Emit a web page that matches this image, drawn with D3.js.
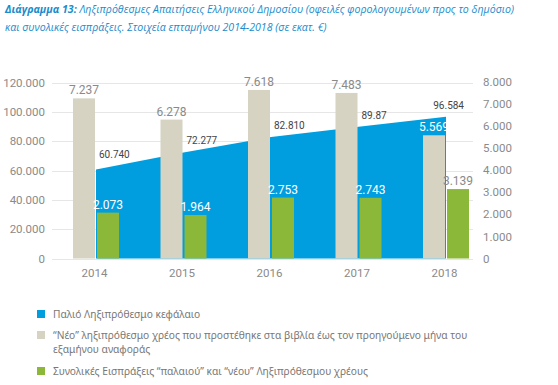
<!DOCTYPE html>
<html>
<head>
<meta charset="utf-8">
<script src="https://cdn.jsdelivr.net/npm/d3@7"></script>
<style>
  body { margin: 0; background: #fff; }
  svg text { font-family: Roboto, "Noto Sans", sans-serif; }
  .title { font-family: "Open Sans", "Noto Sans", sans-serif; font-style: italic; fill: #1a8ccc; font-size: 10.6px; }
  .tick text { fill: #8a8a8a; font-size: 11.5px; }
  .legend text { fill: #777; font-size: 10.2px; font-family: "Noto Sans", sans-serif; }
</style>
</head>
<body>
<div id="chart"></div>
<script>
var years = ["2014", "2015", "2016", "2017", "2018"];
var oldCapital = [60740, 72277, 82810, 89870, 96584];
var oldLabels = ["60.740", "72.277", "82.810", "89.87", "96.584"];
var newDebt = [7237, 6278, 7618, 7483, 5569];
var collections = [2073, 1964, 2753, 2743, 3139];
var leftTicks = [0, 20000, 40000, 60000, 80000, 100000, 120000];
var rightTicks = [0, 1000, 2000, 3000, 4000, 5000, 6000, 7000, 8000];
var legendItems = [
    { color: "#009edf", lines: ["Παλιό Ληξιπρόθεσμο κεφάλαιο"] },
    { color: "#d6d3c3", lines: ["\u201cΝέο\u201d ληξιπρόθεσμο χρέος που προστέθηκε στα βιβλία έως τον προηγούμενο μήνα του", "εξαμήνου αναφοράς"] },
    { color: "#8cb83a", lines: ["Συνολικές Εισπράξεις \u201cπαλαιού\u201d και \u201cνέου\u201d Ληξιπρόθεσμου χρέους"] }
];

var width = 558, height = 385;
var blue = "#009edf", beige = "#d6d3c3", green = "#8cb83a";

var svg = d3.select("#chart").append("svg")
    .attr("width", width)
    .attr("height", height);

// title
var title = svg.append("text").attr("class", "title").attr("x", 5).attr("y", 13);
title.append("tspan").attr("font-weight", "bold").text("Διάγραμμα 13:");
title.append("tspan").text(" Ληξιπρόθεσμες Απαιτήσεις Ελληνικού Δημοσίου (οφειλές φορολογουμένων προς το δημόσιο)");
svg.append("text").attr("class", "title").attr("x", 5).attr("y", 31)
    .text("και συνολικές εισπράξεις. Στοιχεία επταμήνου 2014-2018 (σε εκατ. €)");

var gridLeft = 52, gridRight = 473;

var x = d3.scalePoint().domain(years).range([96, 446]);
var yL = d3.scaleLinear().domain([0, 120000]).range([258.5, 82.5]);
var yR = d3.scaleLinear().domain([0, 8000]).range([258.5, 81.5]);
var barW = 22;

var fmt = function (d) { return d === 0 ? "0" : d3.format(",")(d).replace(/,/g, "."); };

// gridlines
svg.append("g")
    .selectAll("line")
    .data(leftTicks)
    .enter()
    .append("line")
    .attr("x1", gridLeft)
    .attr("x2", gridRight)
    .attr("y1", d => Math.round(yL(d)) + 0.5)
    .attr("y2", d => Math.round(yL(d)) + 0.5)
    .attr("stroke", "#e6e6e6")
    .attr("stroke-width", 1);

// left axis
var axL = svg.append("g")
    .attr("transform", "translate(" + gridLeft + ",0)")
    .call(d3.axisLeft(yL).tickValues(leftTicks).tickFormat(fmt).tickSize(0).tickPadding(7));
axL.select(".domain").remove();

// right axis
var axR = svg.append("g")
    .attr("transform", "translate(" + gridRight + ",0)")
    .call(d3.axisRight(yR).tickValues(rightTicks).tickFormat(fmt).tickSize(0).tickPadding(10));
axR.select(".domain").remove();

// x axis labels
var axX = svg.append("g")
    .attr("transform", "translate(-2,263)")
    .call(d3.axisBottom(x).tickSize(0).tickPadding(6));
axX.select(".domain").remove();

// blue area (old capital)
var area = d3.area()
    .x((d, i) => x(years[i]))
    .y0(yL(0))
    .y1(d => yL(d));

svg.append("path")
    .datum(oldCapital)
    .attr("d", area)
    .attr("fill", blue);

// beige bars
svg.append("g")
    .selectAll("rect")
    .data(newDebt)
    .enter()
    .append("rect")
    .attr("x", (d, i) => x(years[i]) - barW - 1)
    .attr("y", d => yR(d))
    .attr("width", barW)
    .attr("height", d => yR(0) - yR(d))
    .attr("fill", beige);

// green bars
svg.append("g")
    .selectAll("rect")
    .data(collections)
    .enter()
    .append("rect")
    .attr("x", (d, i) => x(years[i]) + 1)
    .attr("y", d => yR(d))
    .attr("width", barW)
    .attr("height", d => yR(0) - yR(d))
    .attr("fill", green);

// beige labels
svg.append("g")
    .selectAll("text")
    .data(newDebt)
    .enter()
    .append("text")
    .attr("x", (d, i) => x(years[i]) - barW / 2 - 1)
    .attr("y", d => yR(d) - 4)
    .attr("text-anchor", "middle")
    .attr("font-size", "12px")
    .attr("fill", (d, i) => i === 4 ? "#fff" : "#8a8a8a")
    .text(d => fmt(d));

// green labels
svg.append("g")
    .selectAll("text")
    .data(collections)
    .enter()
    .append("text")
    .attr("x", (d, i) => x(years[i]) + barW / 2 + 1)
    .attr("y", d => yR(d) - 4)
    .attr("text-anchor", "middle")
    .attr("font-size", "12px")
    .attr("fill", (d, i) => i === 4 ? "#8a8a8a" : "#fff")
    .text(d => fmt(d));

// area value labels
svg.append("g")
    .selectAll("text")
    .data(oldCapital)
    .enter()
    .append("text")
    .attr("x", (d, i) => i === 4 ? x(years[i]) + 18 : x(years[i]) + 3)
    .attr("y", (d, i) => yL(d) - (i === 0 ? 11 : 8))
    .attr("text-anchor", (d, i) => i === 4 ? "end" : "start")
    .attr("font-size", "10px")
    .attr("fill", "#444")
    .text((d, i) => oldLabels[i]);

// legend
var legendY = [314, 335, 371];
var legend = svg.append("g").attr("class", "legend");
legendItems.forEach(function (item, i) {
    legend.append("rect")
        .attr("x", 37)
        .attr("y", legendY[i] - 4)
        .attr("width", 8)
        .attr("height", 8)
        .attr("fill", item.color);
    item.lines.forEach(function (line, j) {
        legend.append("text")
            .attr("x", 53)
            .attr("y", legendY[i] + 3.5 + j * 14)
            .text(line);
    });
});
</script>
</body>
</html>
